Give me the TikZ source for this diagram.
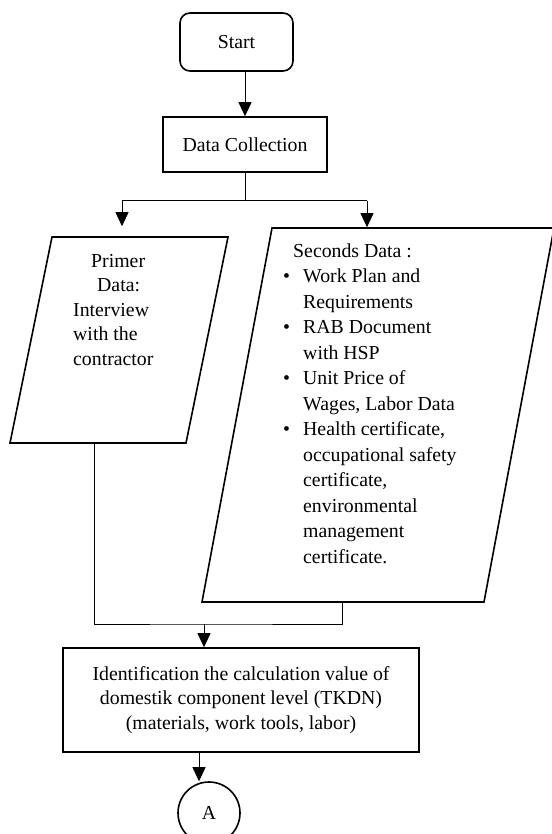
\documentclass[tikz,border=0pt]{standalone}
\usepackage{fontspec}
\setmainfont{Liberation Serif}
\usepackage{tikz}
\usetikzlibrary{arrows.meta,positioning}
\newcommand{\flowfont}{\fontsize{19.8}{24.5}\selectfont}

\begin{document}
\begin{tikzpicture}[x=1pt,y=-1pt,
      term/.style={rectangle,rounded corners=10pt,draw,line width=1.6pt,
                   minimum width=113pt,minimum height=58pt,font=\flowfont},
      proc/.style={rectangle,draw,line width=1.6pt,align=center,font=\flowfont},
      iobox/.style={rectangle,draw,line width=1.6pt,inner sep=0pt,transform shape},
      conn/.style={circle,draw,line width=1.6pt,minimum size=62pt,inner sep=0pt,font=\flowfont},
      txt/.style={inner sep=0pt,anchor=base west,font=\flowfont},
      ln/.style={line width=0.8pt},
      a/.style={ln,-{Triangle[length=14pt,width=13pt]}}]
    \useasboundingbox (0,0) rectangle (551,834);
    \node[term] (start) at (236.5,42) {Start};
    \node[proc,minimum width=164pt,minimum height=55pt] (dc) at (245,144.5) {Data Collection};
    % input boxes (slanted rectangles)
    \begin{scope}[shift={(119,340)},xslant=0.2039]
      \node[iobox,minimum width=176pt,minimum height=206pt] (prim) at (0,0) {};
    \end{scope}
    \begin{scope}[shift={(378,415)},xslant=0.1872]
      \node[iobox,minimum width=282pt,minimum height=374pt] (sec) at (0,0) {};
    \end{scope}
    \node[txt] (primtxt) at (73,267) {\begin{tabular}[t]{@{}l@{}}
      \hspace*{18pt}Primer\\ \hspace*{24pt}Data:\\ Interview\\ with the\\ contractor\end{tabular}};
    \node[txt] (sectxt) at (283,257) {\fontsize{19.8}{25.5}\selectfont
      \begin{tabular}[t]{@{}p{20pt}@{}l@{}}
      \multicolumn{2}{@{}l@{}}{\hspace*{10pt}Seconds Data :}\\
      \textbullet & Work Plan and\\ & Requirements\\
      \textbullet & RAB Document\\ & with HSP\\
      \textbullet & Unit Price of\\ & Wages, Labor Data\\
      \textbullet & Health certificate,\\ & occupational safety\\ & certificate,\\
                  & environmental\\ & management\\ & certificate.
      \end{tabular}};
    \node[proc,minimum width=356pt,minimum height=104pt] (idb) at (241,700)
      {Identification the calculation value of\\domestik component level (TKDN)\\(materials, work tools, labor)};
    \node[conn] (circA) at (209,813) {A};
    % split
    \draw[a] (dc.north |- start.south) -- (dc.north);
    \draw[ln] (dc.south) -- ++(0,28) coordinate (sp);
    \coordinate[left=123pt of sp] (spL);
    \coordinate[right=122pt of sp] (spR);
    \draw[ln] (spL) -- (spR);
    \draw[a,shorten >=10pt] (spL) -- (spL |- prim.north);
    \draw[a] (spR) -- (spR |- sec.north);
    % merge
    \coordinate (mrg) at (204,624);
    \draw[ln] ([xshift=-3pt]prim.south) |- (mrg) -| (sec.south);
    \draw[a] (mrg) -- (mrg |- idb.north);
    \draw[a] ([xshift=-42pt]idb.south) -- ([xshift=-10pt]circA.north);
\end{tikzpicture}
\end{document}
